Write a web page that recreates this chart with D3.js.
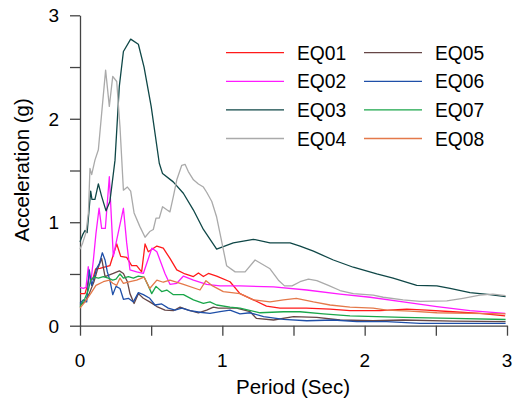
<!DOCTYPE html>
<html>
<head>
<meta charset="utf-8">
<script src="https://cdn.jsdelivr.net/npm/d3@7"></script>
<style>
  body { margin: 0; background: #fff; }
  svg text { font-family: "Liberation Sans", Arial, sans-serif; fill: #000; }
</style>
</head>
<body>
<svg id="chart" width="515" height="408"></svg>
<script>
// spectral acceleration (g) vs period (sec)
var eq01Period = [0, 0.035, 0.05, 0.065, 0.09, 0.11, 0.14, 0.21, 0.258, 0.286, 0.328, 0.363, 0.398, 0.433, 0.457, 0.48, 0.54, 0.585, 0.632, 0.68, 0.738, 0.797, 0.832, 0.867, 0.902, 0.96, 1.054, 1.124, 1.218, 1.31, 1.405, 1.59, 1.757, 1.897, 2.108, 2.296, 2.436, 2.62, 2.81, 2.987];
var eq01Accel  = [0.31, 0.31, 0.38, 0.48, 0.45, 0.55, 0.555, 0.58, 0.79, 0.67, 0.66, 0.58, 0.58, 0.52, 0.79, 0.715, 0.77, 0.75, 0.65, 0.54, 0.50, 0.475, 0.51, 0.475, 0.505, 0.48, 0.425, 0.31, 0.25, 0.19, 0.17, 0.17, 0.16, 0.145, 0.145, 0.16, 0.15, 0.135, 0.12, 0.095];

var eq02Period = [0, 0.023, 0.042, 0.058, 0.075, 0.094, 0.112, 0.134, 0.152, 0.178, 0.206, 0.234, 0.258, 0.305, 0.328, 0.351, 0.398, 0.445, 0.505, 0.54, 0.597, 0.632, 0.68, 0.727, 0.797, 0.89, 0.984, 1.124, 1.36, 1.593, 1.827, 2.038, 2.27, 2.507, 2.74, 2.987];
var eq02Accel  = [0.37, 0.36, 0.37, 0.57, 0.41, 0.635, 0.89, 1.135, 0.94, 0.94, 1.44, 0.67, 0.83, 1.135, 0.80, 0.54, 0.52, 0.505, 0.75, 0.715, 0.505, 0.40, 0.41, 0.48, 0.44, 0.40, 0.385, 0.385, 0.375, 0.345, 0.305, 0.275, 0.23, 0.185, 0.145, 0.12];

var eq03Period = [0, 0.019, 0.035, 0.05, 0.075, 0.084, 0.105, 0.129, 0.152, 0.183, 0.21, 0.246, 0.276, 0.305, 0.356, 0.41, 0.45, 0.50, 0.557, 0.58, 0.655, 0.726, 0.796, 0.867, 0.96, 1.077, 1.218, 1.335, 1.476, 1.546, 1.64, 1.78, 1.92, 2.085, 2.20, 2.366, 2.507, 2.60, 2.74, 2.88, 2.99];
var eq03Accel  = [0.81, 0.88, 0.92, 0.90, 1.30, 1.22, 1.22, 1.37, 1.25, 1.11, 1.20, 1.60, 2.31, 2.65, 2.77, 2.72, 2.50, 2.12, 1.57, 1.47, 1.39, 1.28, 1.12, 0.93, 0.74, 0.80, 0.835, 0.80, 0.80, 0.77, 0.72, 0.635, 0.565, 0.50, 0.46, 0.39, 0.385, 0.36, 0.32, 0.30, 0.28];

var eq04Period = [0, 0.019, 0.042, 0.059, 0.07, 0.082, 0.105, 0.129, 0.152, 0.18, 0.206, 0.23, 0.258, 0.281, 0.305, 0.333, 0.356, 0.38, 0.42, 0.457, 0.49, 0.515, 0.534, 0.557, 0.58, 0.61, 0.632, 0.656, 0.68, 0.715, 0.738, 0.761, 0.797, 0.832, 0.867, 0.89, 0.926, 0.96, 0.984, 1.03, 1.09, 1.16, 1.23, 1.335, 1.394, 1.437, 1.49, 1.546, 1.605, 1.664, 1.745, 1.827, 1.92, 2.06, 2.13, 2.27, 2.39, 2.577, 2.69, 2.81, 2.90, 2.99];
var eq04Accel  = [0.74, 0.80, 0.90, 1.09, 1.52, 1.46, 1.60, 1.70, 2.05, 2.47, 2.12, 2.41, 2.36, 1.92, 1.31, 1.34, 1.30, 1.09, 0.96, 0.855, 0.91, 0.93, 1.04, 1.04, 1.15, 1.12, 1.10, 1.25, 1.41, 1.55, 1.56, 1.49, 1.41, 1.37, 1.34, 1.29, 1.20, 1.05, 0.89, 0.58, 0.52, 0.52, 0.635, 0.55, 0.44, 0.385, 0.385, 0.425, 0.45, 0.435, 0.39, 0.34, 0.31, 0.295, 0.275, 0.25, 0.235, 0.24, 0.265, 0.295, 0.305, 0.29];

var eq05Period = [0, 0.035, 0.065, 0.098, 0.122, 0.152, 0.176, 0.234, 0.277, 0.305, 0.333, 0.351, 0.38, 0.41, 0.445, 0.49, 0.54, 0.597, 0.656, 0.703, 0.761, 0.832, 0.89, 0.937, 0.972, 1.10, 1.195, 1.24, 1.36, 1.50, 1.664, 1.827, 2.06, 2.27, 2.62, 2.99];
var eq05Accel  = [0.20, 0.23, 0.31, 0.425, 0.54, 0.65, 0.475, 0.505, 0.53, 0.505, 0.425, 0.31, 0.215, 0.31, 0.265, 0.23, 0.185, 0.15, 0.145, 0.18, 0.15, 0.125, 0.15, 0.18, 0.17, 0.17, 0.135, 0.07, 0.055, 0.087, 0.08, 0.055, 0.048, 0.055, 0.045, 0.04];

var eq06Period = [0, 0.023, 0.047, 0.065, 0.082, 0.098, 0.117, 0.136, 0.157, 0.176, 0.192, 0.21, 0.23, 0.253, 0.281, 0.305, 0.34, 0.375, 0.41, 0.445, 0.49, 0.527, 0.574, 0.62, 0.668, 0.715, 0.773, 0.843, 0.913, 0.984, 1.054, 1.124, 1.195, 1.29, 1.43, 1.593, 1.78, 1.945, 2.155, 2.39, 2.74, 2.99];
var eq06Accel  = [0.215, 0.25, 0.23, 0.54, 0.39, 0.46, 0.555, 0.60, 0.705, 0.635, 0.52, 0.44, 0.30, 0.38, 0.36, 0.255, 0.265, 0.23, 0.32, 0.30, 0.265, 0.20, 0.21, 0.17, 0.15, 0.17, 0.145, 0.13, 0.12, 0.135, 0.15, 0.115, 0.125, 0.087, 0.062, 0.048, 0.055, 0.04, 0.04, 0.023, 0.023, 0.023];

var eq07Period = [0, 0.035, 0.058, 0.075, 0.098, 0.129, 0.164, 0.199, 0.23, 0.253, 0.281, 0.305, 0.34, 0.375, 0.41, 0.45, 0.48, 0.504, 0.534, 0.574, 0.61, 0.656, 0.727, 0.797, 0.867, 0.913, 0.96, 1.054, 1.124, 1.265, 1.43, 1.546, 1.71, 1.897, 2.085, 2.27, 2.62, 2.99];
var eq07Accel  = [0.185, 0.265, 0.345, 0.44, 0.47, 0.46, 0.475, 0.46, 0.44, 0.45, 0.50, 0.46, 0.475, 0.46, 0.48, 0.47, 0.385, 0.31, 0.38, 0.33, 0.345, 0.30, 0.30, 0.25, 0.215, 0.23, 0.20, 0.18, 0.17, 0.125, 0.135, 0.135, 0.115, 0.095, 0.087, 0.08, 0.07, 0.06];

var eq08Period = [0, 0.035, 0.075, 0.112, 0.164, 0.206, 0.23, 0.258, 0.281, 0.305, 0.351, 0.398, 0.45, 0.49, 0.54, 0.585, 0.632, 0.727, 0.843, 0.885, 0.925, 1.007, 1.124, 1.218, 1.335, 1.43, 1.52, 1.64, 1.757, 1.897, 2.06, 2.155, 2.32, 2.507, 2.74, 2.99];
var eq08Accel  = [0.17, 0.23, 0.31, 0.39, 0.425, 0.44, 0.41, 0.39, 0.46, 0.41, 0.425, 0.44, 0.47, 0.36, 0.44, 0.42, 0.44, 0.40, 0.345, 0.435, 0.39, 0.33, 0.31, 0.25, 0.23, 0.25, 0.265, 0.23, 0.20, 0.18, 0.17, 0.15, 0.14, 0.125, 0.12, 0.115];

var seriesNames  = ['EQ01', 'EQ02', 'EQ03', 'EQ04', 'EQ05', 'EQ06', 'EQ07', 'EQ08'];
var seriesColors = ['#ff1a1a', '#ff1aff', '#0f4747', '#aaaaaa', '#664646', '#1f4fa8', '#1aa64a', '#e4794a'];
var xTicks = [0, 0.5, 1, 1.5, 2, 2.5, 3];
var yTicks = [0, 0.5, 1, 1.5, 2, 2.5, 3];
var xLabels = [0, 1, 2, 3];
var yLabels = [0, 1, 2, 3];

var periods = [eq01Period, eq02Period, eq03Period, eq04Period, eq05Period, eq06Period, eq07Period, eq08Period];
var accels  = [eq01Accel, eq02Accel, eq03Accel, eq04Accel, eq05Accel, eq06Accel, eq07Accel, eq08Accel];

var svg = d3.select('#chart'),
    x = d3.scaleLinear().domain([0, 3]).range([80, 507]),
    y = d3.scaleLinear().domain([0, 3]).range([325.7, 15.3]);

var axisColor = '#444';

// x axis
var gx = svg.append('g').attr('transform', 'translate(0,' + y(0) + ')');
gx.call(d3.axisBottom(x).tickValues(xTicks).tickSize(10).tickSizeOuter(0).tickFormat(''));
gx.select('.domain').attr('stroke', axisColor).attr('stroke-width', 1.3);
gx.selectAll('.tick line').attr('stroke', axisColor).attr('stroke-width', 1.3);

gx.selectAll('.lbl')
    .data(xLabels)
    .enter().append('text')
    .attr('x', function(d) { return x(d); })
    .attr('y', 367 - y(0))
    .attr('text-anchor', 'middle')
    .style('font-size', '19px')
    .text(function(d) { return d; });

// y axis
var gy = svg.append('g').attr('transform', 'translate(' + x(0) + ',0)');
gy.call(d3.axisLeft(y).tickValues(yTicks).tickSize(10).tickSizeOuter(0).tickFormat(''));
gy.select('.domain').attr('stroke', axisColor).attr('stroke-width', 1.3);
gy.selectAll('.tick line').attr('stroke', axisColor).attr('stroke-width', 1.3);

gy.selectAll('.lbl')
    .data(yLabels)
    .enter().append('text')
    .attr('x', 59 - x(0))
    .attr('y', function(d) { return y(d) + 7; })
    .attr('text-anchor', 'end')
    .style('font-size', '19px')
    .text(function(d) { return d; });

svg.append('text')
    .attr('transform', 'translate(29,170) rotate(-90)')
    .attr('text-anchor', 'middle')
    .style('font-size', '20.5px')
    .text('Acceleration (g)');

svg.append('text')
    .attr('x', 293)
    .attr('y', 394)
    .attr('text-anchor', 'middle')
    .style('font-size', '20.5px')
    .text('Period (Sec)');

// spectra
var line = d3.line()
    .x(function(d) { return x(d[0]); })
    .y(function(d) { return y(d[1]); });

seriesNames.forEach(function(name, i) {
    var pts = d3.zip(periods[i], accels[i]);
    svg.append('path')
        .datum(pts)
        .attr('fill', 'none')
        .attr('stroke', seriesColors[i])
        .attr('stroke-width', 1.3)
        .attr('stroke-linejoin', 'round')
        .attr('d', line);
});

// legend
var legend = svg.append('g');
seriesNames.forEach(function(name, i) {
    var col = Math.floor(i / 4),
        row = i % 4,
        lx = col === 0 ? 226 : 364,
        ly = 52.7 + row * 28.6;
    legend.append('line')
        .attr('x1', lx).attr('x2', lx + 58)
        .attr('y1', ly).attr('y2', ly)
        .attr('stroke', seriesColors[i])
        .attr('stroke-width', 1.3);
    legend.append('text')
        .attr('x', lx + 71)
        .attr('y', ly + 7)
        .style('font-size', '19.3px')
        .text(name);
});
</script>
</body>
</html>
